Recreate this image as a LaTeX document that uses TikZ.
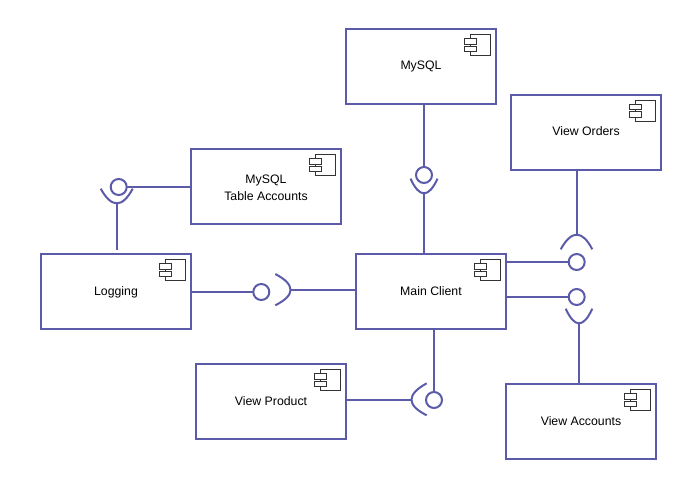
\documentclass[tikz,border=0pt]{standalone}
\usepackage{fontspec}
\setmainfont{Liberation Sans}
\definecolor{umlblue}{HTML}{5B5BA9}
\definecolor{icongray}{HTML}{333333}
\tikzset{
  comp/.style={draw=umlblue,line width=2pt,fill=white,minimum width=150pt,minimum height=75pt,inner sep=0pt,outer sep=0pt,align=center,font=\fontsize{12.3}{17.5}\selectfont,anchor=north west,text=black},
  ball/.style={draw=umlblue,line width=2pt,circle,minimum size=16pt,inner sep=0pt,outer sep=0pt},
  wire/.style={draw=umlblue,line width=2pt},
  iconline/.style={draw=icongray,line width=1pt}
}
\newcommand{\compicon}[1]{%
  \begin{scope}[shift={(#1.north east)}]
    \draw[iconline] (-25.5,5.5) rectangle (-5.5,26.5);
    \draw[iconline,fill=white] (-31.5,9.5) rectangle (-19.5,15);
    \draw[iconline,fill=white] (-31.5,17) rectangle (-19.5,22.5);
  \end{scope}}
\begin{document}
\begin{tikzpicture}[x=1pt,y=-1pt]
\useasboundingbox (0,0) rectangle (695,479);
\node[comp] (mysql) at (346,29) {MySQL};
\node[comp] (table) at (191,149) {\rule{0pt}{11pt}MySQL\\Table Accounts};
\node[comp] (logging) at (41,254) {\rule{0pt}{11pt}Logging};
\node[comp] (client) at (356,254) {Main Client};
\node[comp,minimum height=75.5pt] (orders) at (511,94.5) {\raisebox{2pt}{View Orders}};
\node[comp] (accounts) at (506,384) {View Accounts};
\node[comp] (product) at (196,364) {View Product};
\compicon{mysql}\compicon{table}\compicon{logging}\compicon{client}\compicon{orders}\compicon{accounts}\compicon{product}
% balls
\node[ball] (b1) at (424,175) {};
\node[ball] (b2) at (118.7,187) {};
\node[ball] (b3) at (261.3,292) {};
\node[ball] (b4) at (434,400) {};
\node[ball] (b5) at (576.7,262) {};
\node[ball] (b6) at (576.7,297) {};
% socket apexes
\coordinate (s1) at (424,193.3);
\coordinate (s2) at (117,203.3);
\coordinate (s3) at (290.7,290);
\coordinate (s4) at (411.3,400);
\coordinate (s5) at (577,234.7);
\coordinate (s6) at (579,323.3);
\coordinate (e2) at (117,250);
% sockets
\draw[wire,shift={(s1)}] (-13.5,-14.6) .. controls (-4.5,4.9) and (4.5,4.9) .. (13.5,-14.6);
\draw[wire,shift={(s2)}] (-16.3,-14.6) .. controls (-5.4,4.9) and (5.2,4.9) .. (15.7,-14.6);
\draw[wire,shift={(s3)}] (-15.4,-16) .. controls (4.9,-5.3) and (4.9,5.1) .. (-15.4,15.3);
\draw[wire,shift={(s4)}] (15.4,-16.7) .. controls (-4.9,-5.5) and (-4.9,5.1) .. (15.4,15.3);
\draw[wire,shift={(s5)}] (-16.3,14.6) .. controls (-5.4,-4.9) and (5.1,-4.9) .. (15.3,14.6);
\draw[wire,shift={(s6)}] (-13.3,-14.6) .. controls (-4.4,4.9) and (4.4,4.9) .. (13.3,-14.6);
% connectors
\draw[wire] (b1 |- mysql.south) -- (b1.north);
\draw[wire] (s1) -- (s1 |- client.north);
\draw[wire] (table.west |- b2) -- (b2.east);
\draw[wire] (s2) -- (e2);
\draw[wire] (logging.east |- b3) -- (b3.west);
\draw[wire] (s3) -- (client.west |- s3);
\draw[wire] (product.east |- b4) -- (s4);
\draw[wire] (b4 |- client.south) -- (b4.north);
\draw[wire] (s5 |- orders.south) -- (s5);
\draw[wire] (client.east |- b5) -- (b5.west);
\draw[wire] (client.east |- b6) -- (b6.west);
\draw[wire] (s6) -- (s6 |- accounts.north);
\end{tikzpicture}
\end{document}
